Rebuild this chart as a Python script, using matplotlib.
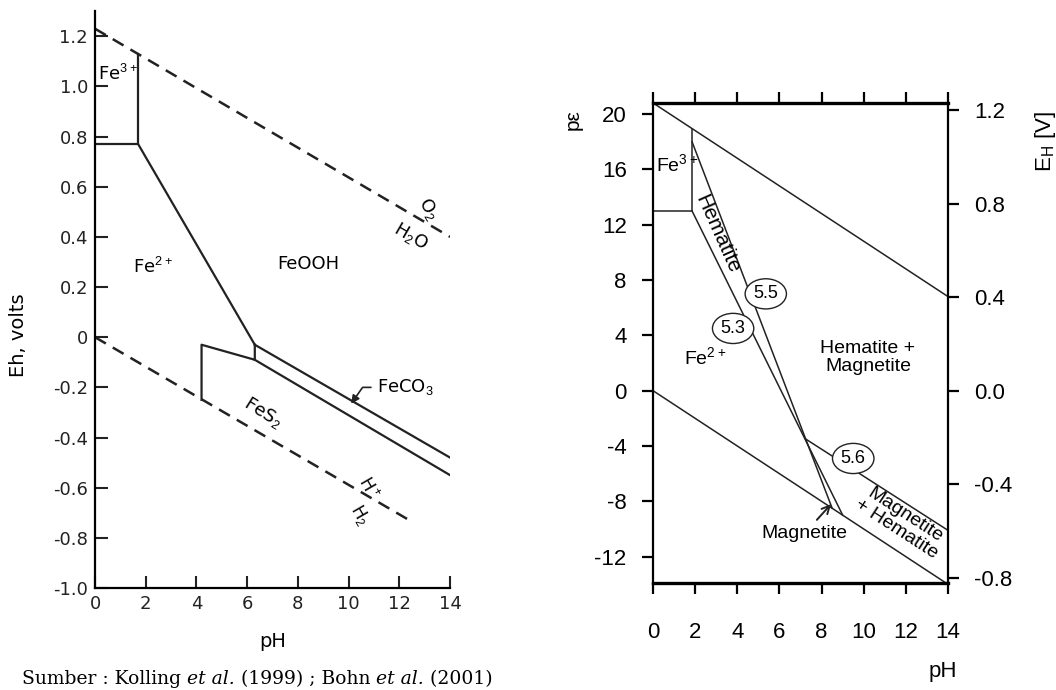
import matplotlib
matplotlib.use("Agg")
import matplotlib.pyplot as plt

plt.rcParams['font.family'] = ['Liberation Sans', 'DejaVu Sans']
plt.rcParams['mathtext.fontset'] = 'custom'
plt.rcParams['mathtext.rm'] = 'Liberation Sans'
plt.rcParams['axes.unicode_minus'] = False

# LEFT PANEL: Eh-pH (Kolling et al. 1999)
o2_ph = [0, 14]
o2_eh = [1.23, 0.40]
h2_ph = [0, 12.4]
h2_eh = [0.0, -0.73]
fe3_box_ph = [0, 1.7, 1.7]
fe3_box_eh = [0.77, 0.77, 1.13]
fe2_ooh_ph = [1.7, 6.3]
fe2_ooh_eh = [0.77, -0.03]
fes2_ph = [4.2, 4.2, 6.3, 6.3]
fes2_eh = [-0.25, -0.03, -0.09, -0.03]
feco3_top_ph = [6.3, 14]
feco3_top_eh = [-0.03, -0.48]
feco3_bot_ph = [6.3, 14]
feco3_bot_eh = [-0.09, -0.55]
feco3_point = (10.1, -0.265)
feco3_text = (11.1, -0.2)

left_xticks = [0, 2, 4, 6, 8, 10, 12, 14]
left_yticks = [1.2, 1.0, 0.8, 0.6, 0.4, 0.2, 0, -0.2, -0.4, -0.6, -0.8, -1.0]
left_ylabels = ["1.2", "1.0", "0.8", "0.6", "0.4", "0.2", "0",
                "-0.2", "-0.4", "-0.6", "-0.8", "-1.0"]

# RIGHT PANEL: pe-pH (Bohn et al. 2001)
uw_ph = [0, 14]
uw_pe = [20.8, 6.8]
lw_ph = [0, 14]
lw_pe = [0, -14]
fe3_ph = [0, 1.85, 1.85]
fe3_pe = [13, 13, 18.95]
l53_ph = [1.85, 9.0]
l53_pe = [13, -9.0]
l55_ph = [1.85, 8.5]
l55_pe = [18.0, -8.5]
l56_ph = [7.25, 14]
l56_pe = [-3.5, -10.1]
magnetite_tip = (8.45, -8.2)

right_xticks = [0, 2, 4, 6, 8, 10, 12, 14]
pe_ticks = [20, 16, 12, 8, 4, 0, -4, -8, -12]
eh_ticks = [1.2, 0.8, 0.4, 0.0, -0.4, -0.8]
eh_labels = ["1.2", "0.8", "0.4", "0.0", "-0.4", "-0.8"]
PE_TO_V = 0.05916

fig = plt.figure(figsize=(10.56, 6.9), dpi=100)

# ---- left ----
LF = 'DejaVu Sans'
ax1 = fig.add_axes([0.0900, 0.1478, 0.3362, 0.836])
ax1.set_xlim(0, 14)
ax1.set_ylim(-1.0, 1.3)
dash = (0, (5, 3.2))
ax1.plot(o2_ph, o2_eh, color='#222', lw=1.8, linestyle=dash)
ax1.plot(h2_ph, h2_eh, color='#222', lw=1.8, linestyle=dash)
for xs, ys in [(fe3_box_ph, fe3_box_eh), (fe2_ooh_ph, fe2_ooh_eh), (fes2_ph, fes2_eh),
               (feco3_top_ph, feco3_top_eh), (feco3_bot_ph, feco3_bot_eh)]:
    ax1.plot(xs, ys, color='#222', lw=1.6)

ax1.spines['top'].set_visible(False)
ax1.spines['right'].set_visible(False)
ax1.spines['left'].set_linewidth(1.6)
ax1.spines['bottom'].set_linewidth(1.6)
ax1.set_xticks(left_xticks)
ax1.set_yticks(left_yticks)
ax1.set_yticklabels(left_ylabels)
ax1.tick_params(direction='in', length=9, width=1.5, labelsize=13, colors='#222', pad=5)
for lab in ax1.get_xticklabels() + ax1.get_yticklabels():
    lab.set_family(LF)
ax1.set_xlabel("pH", fontsize=14, family=LF)
ax1.xaxis.set_label_coords(0.501, -0.076)
ax1.set_ylabel("Eh, volts", fontsize=14, family=LF)
ax1.yaxis.set_label_coords(-0.19, 0.438)

tk = dict(family=LF, ha='center', va='center')
ax1.text(0.1, 1.05, "Fe$^{3+}$", fontsize=13, family=LF, ha='left', va='center')
ax1.text(2.3, 0.28, "Fe$^{2+}$", fontsize=13, **tk)
ax1.text(8.4, 0.29, "FeOOH", fontsize=13, **tk)
ax1.text(6.6, -0.30, "FeS$_2$", fontsize=13, rotation=-32, **tk)
ax1.text(13.15, 0.51, "O$_2$", fontsize=13, rotation=-60, **tk)
ax1.text(12.45, 0.40, "H$_2$O", fontsize=13, rotation=-30, **tk)
ax1.text(10.8, -0.60, "H$^+$", fontsize=12, rotation=-60, **tk)
ax1.text(10.45, -0.71, "H$_2$", fontsize=12, rotation=-60, **tk)
ax1.annotate("FeCO$_3$", xy=feco3_point, xytext=feco3_text, fontsize=13, family=LF,
             ha='left', va='center',
             arrowprops=dict(arrowstyle='-|>', color='#222', lw=1.2,
                             connectionstyle='angle,angleA=0,angleB=55,rad=0',
                             shrinkA=2, shrinkB=0, mutation_scale=12))

# ---- right ----
ax2 = fig.add_axes([0.6184, 0.1551, 0.2794, 0.6957])
ax2.set_xlim(0, 14)
ax2.set_ylim(-13.9, 20.8)
for xs, ys in [(uw_ph, uw_pe), (lw_ph, lw_pe), (fe3_ph, fe3_pe),
               (l53_ph, l53_pe), (l55_ph, l55_pe), (l56_ph, l56_pe)]:
    ax2.plot(xs, ys, color='#222', lw=1.1)

for side in ['top', 'bottom']:
    ax2.spines[side].set_linewidth(2.4)
for side in ['left', 'right']:
    ax2.spines[side].set_linewidth(1.6)
ax2.set_xticks(right_xticks)
ax2.set_yticks(pe_ticks)
ax2.tick_params(axis='x', direction='out', length=8, width=1.6, top=True,
                labelsize=16, pad=20)
ax2.tick_params(axis='y', direction='out', length=8, width=1.6,
                labelsize=16, pad=11)
ax2.set_ylabel("p\u03b5", fontsize=15, rotation=90, va='center')
ax2.yaxis.set_label_coords(-0.271, 0.965)
ax2.set_xlabel("pH", fontsize=16, ha='right')
ax2.xaxis.set_label_coords(1.03, -0.163)

ax3 = ax2.twinx()
ax3.set_ylim(-13.9 * PE_TO_V, 20.8 * PE_TO_V)
ax3.set_yticks(eh_ticks)
ax3.set_yticklabels(eh_labels)
ax3.tick_params(axis='y', direction='out', length=8, width=1.6, labelsize=16, pad=11)
for s in ax3.spines.values():
    s.set_visible(False)
ax3.set_ylabel("E$_\\mathrm{H}$ [V]", fontsize=16, rotation=90, va='center')
ax3.yaxis.set_label_coords(1.33, 0.92)

circ = dict(boxstyle='ellipse,pad=0.12', fc='white', ec='#222', lw=1.0)
ax2.text(0.15, 16.3, "Fe$^{3+}$", fontsize=14, ha='left', va='center')
ax2.text(3.05, 11.3, "Hematite", fontsize=15, ha='center', va='center', rotation=-66)
ax2.text(5.35, 7.0, "5.5", fontsize=13, ha='center', va='center', bbox=circ)
ax2.text(3.8, 4.5, "5.3", fontsize=13, ha='center', va='center', bbox=circ)
ax2.text(2.5, 2.4, "Fe$^{2+}$", fontsize=14, ha='center', va='center')
ax2.text(10.2, 2.4, "Hematite +\nMagnetite", fontsize=14, ha='center', va='center',
         linespacing=1.1)
ax2.text(9.5, -4.9, "5.6", fontsize=13, ha='center', va='center', bbox=circ)
ax2.text(11.75, -9.5, "Magnetite\n+ Hematite", fontsize=14, ha='center', va='center',
         rotation=-33, linespacing=0.95)
ax2.annotate("Magnetite", xy=magnetite_tip, xytext=(7.2, -10.3), fontsize=14,
             ha='center', va='center',
             arrowprops=dict(arrowstyle='->', color='#222', lw=1.4,
                             shrinkA=2, shrinkB=0, mutation_scale=14))

# ---- caption ----
pieces = [("Sumber : Kolling ", 'normal'), ("et al.", 'italic'), (" (1999) ; Bohn ", 'normal'),
          ("et al.", 'italic'), (" (2001)", 'normal')]
fig.canvas.draw()
r = fig.canvas.get_renderer()
x = 22 / 1056
for txt, st in pieces:
    t = fig.text(x, 0.008, txt, fontsize=13.5, family='DejaVu Serif', style=st,
                 ha='left', va='baseline')
    bb = t.get_window_extent(renderer=r)
    x += bb.width / 1056

fig.savefig("out.png", dpi=100)
